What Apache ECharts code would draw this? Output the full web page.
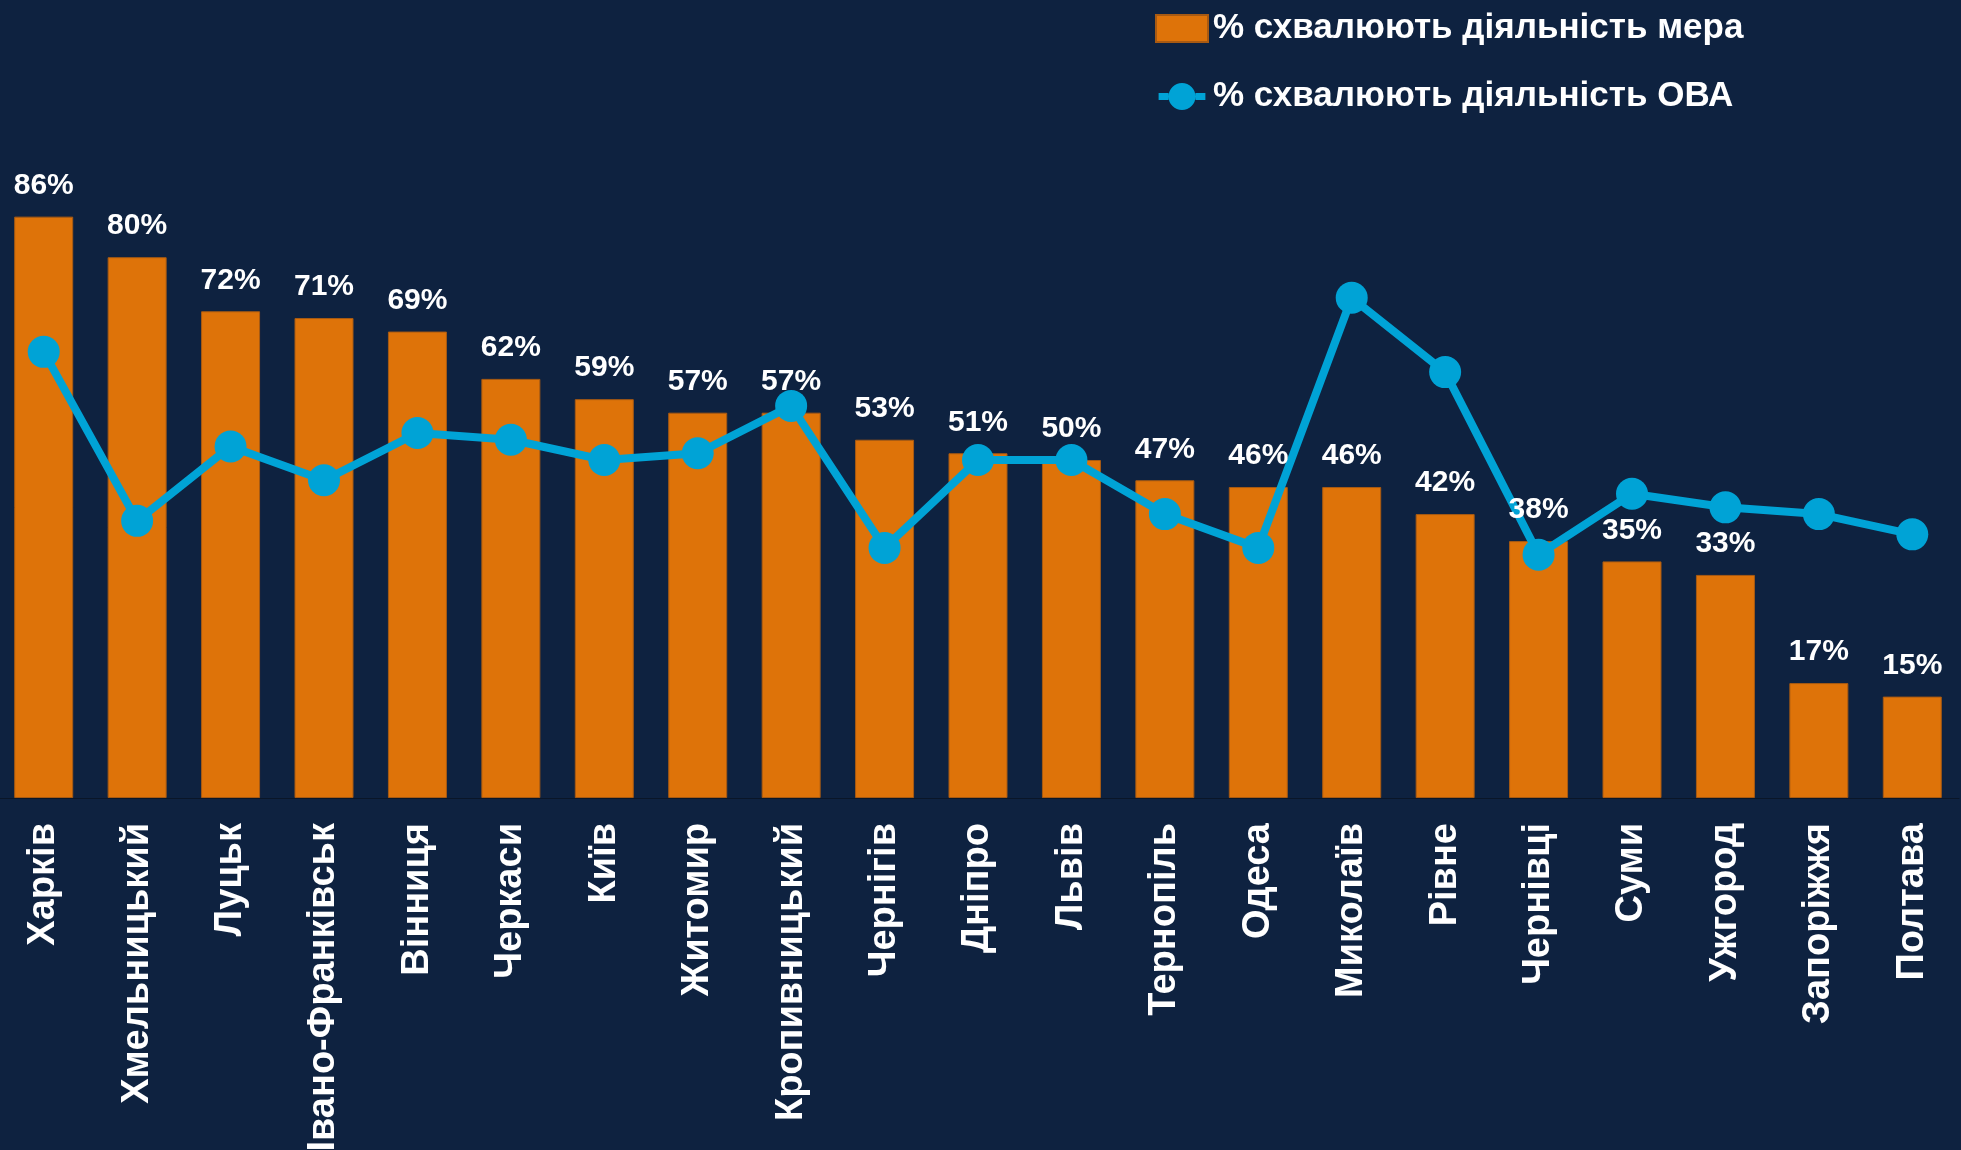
<!DOCTYPE html>
<html>
<head>
<meta charset="utf-8">
<script src="https://cdn.jsdelivr.net/npm/echarts@6/dist/echarts.min.js"></script>
<style>
  html, body { margin: 0; padding: 0; background: #0e2240; }
  #chart { width: 1961px; height: 1150px; }
</style>
</head>
<body>
<div id="chart"></div>
<script>
// міста
const cities = ['Харків', 'Хмельницький', 'Луцьк', 'Івано-Франківськ', 'Вінниця', 'Черкаси', 'Київ',
  'Житомир', 'Кропивницький', 'Чернігів', 'Дніпро', 'Львів', 'Тернопіль', 'Одеса', 'Миколаїв',
  'Рівне', 'Чернівці', 'Суми', 'Ужгород', 'Запоріжжя', 'Полтава'];
// % схвалюють діяльність мера
const mayorValues = [86, 80, 72, 71, 69, 62, 59, 57, 57, 53, 51, 50, 47, 46, 46, 42, 38, 35, 33, 17, 15];
// % схвалюють діяльність ОВА
const ovaValues = [66, 41, 52, 47, 54, 53, 50, 51, 58, 37, 50, 50, 42, 37, 74, 63, 36, 45, 43, 42, 39];

const seriesNames = ['% схвалюють діяльність мера', '% схвалюють діяльність ОВА'];

const font = "'Liberation Sans', Arial, sans-serif";
// значок легенди: лінія з кружком
const lineIcon = 'path://M0,11L11,11L11,19L0,19Z M41,11L52,11L52,19L41,19Z M41,15A15,15 0 1,1 11,15A15,15 0 1,1 41,15Z';

const chart = echarts.init(document.getElementById('chart'));
const options = {
  backgroundColor: '#0e2240',
  animation: false,
  legend: {
    orient: 'vertical',
    left: 1150,
    top: 6,
    itemWidth: 52,
    itemHeight: 27,
    itemGap: 33,
    textStyle: {
      color: '#fff',
      fontFamily: font,
      fontWeight: 'bold',
      fontSize: 35
    },
    data: [
      { name: seriesNames[0], icon: 'rect' },
      { name: seriesNames[1], icon: lineIcon }
    ]
  },
  grid: {
    left: -3,
    right: 2,
    top: 122,
    bottom: 352,
    containLabel: false,
    outerBoundsMode: 'none'
  },
  xAxis: {
    type: 'category',
    data: cities,
    axisLine: { show: true, lineStyle: { color: '#0a1628', width: 1 } },
    axisTick: { show: false },
    axisLabel: {
      rotate: 90,
      interval: 0,
      margin: 25,
      color: '#fff',
      fontFamily: font,
      fontWeight: 'bold',
      fontSize: 38
    }
  },
  yAxis: {
    type: 'value',
    min: 0,
    max: 100,
    show: false,
    splitLine: { show: false }
  },
  series: [
    {
      // стовпці мера
      name: seriesNames[0],
      type: 'bar',
      barWidth: 59,
      data: mayorValues,
      itemStyle: {
        color: '#de7309',
        borderColor: '#a85a12',
        borderWidth: 1
      }
    },
    {
      // лінія ОВА
      name: seriesNames[1],
      type: 'line',
      data: ovaValues,
      symbol: 'circle',
      symbolSize: 32,
      lineStyle: { color: '#00a3d6', width: 8 },
      itemStyle: { color: '#00a3d6' }
    },
    {
      // підписи стовпців поверх лінії
      name: 'labels',
      type: 'scatter',
      data: mayorValues,
      symbolSize: 0,
      silent: true,
      z: 5,
      itemStyle: { color: 'rgba(0,0,0,0)', opacity: 1 },
      label: {
        show: true,
        position: 'top',
        distance: 16,
        formatter: '{c}%',
        color: '#ffffff',
        opacity: 1,
        fontFamily: font,
        fontWeight: 'bold',
        fontSize: 30
      }
    }
  ]
};
chart.setOption(options);
window.onresize = () => {
  chart.resize();
};
</script>
</body>
</html>
